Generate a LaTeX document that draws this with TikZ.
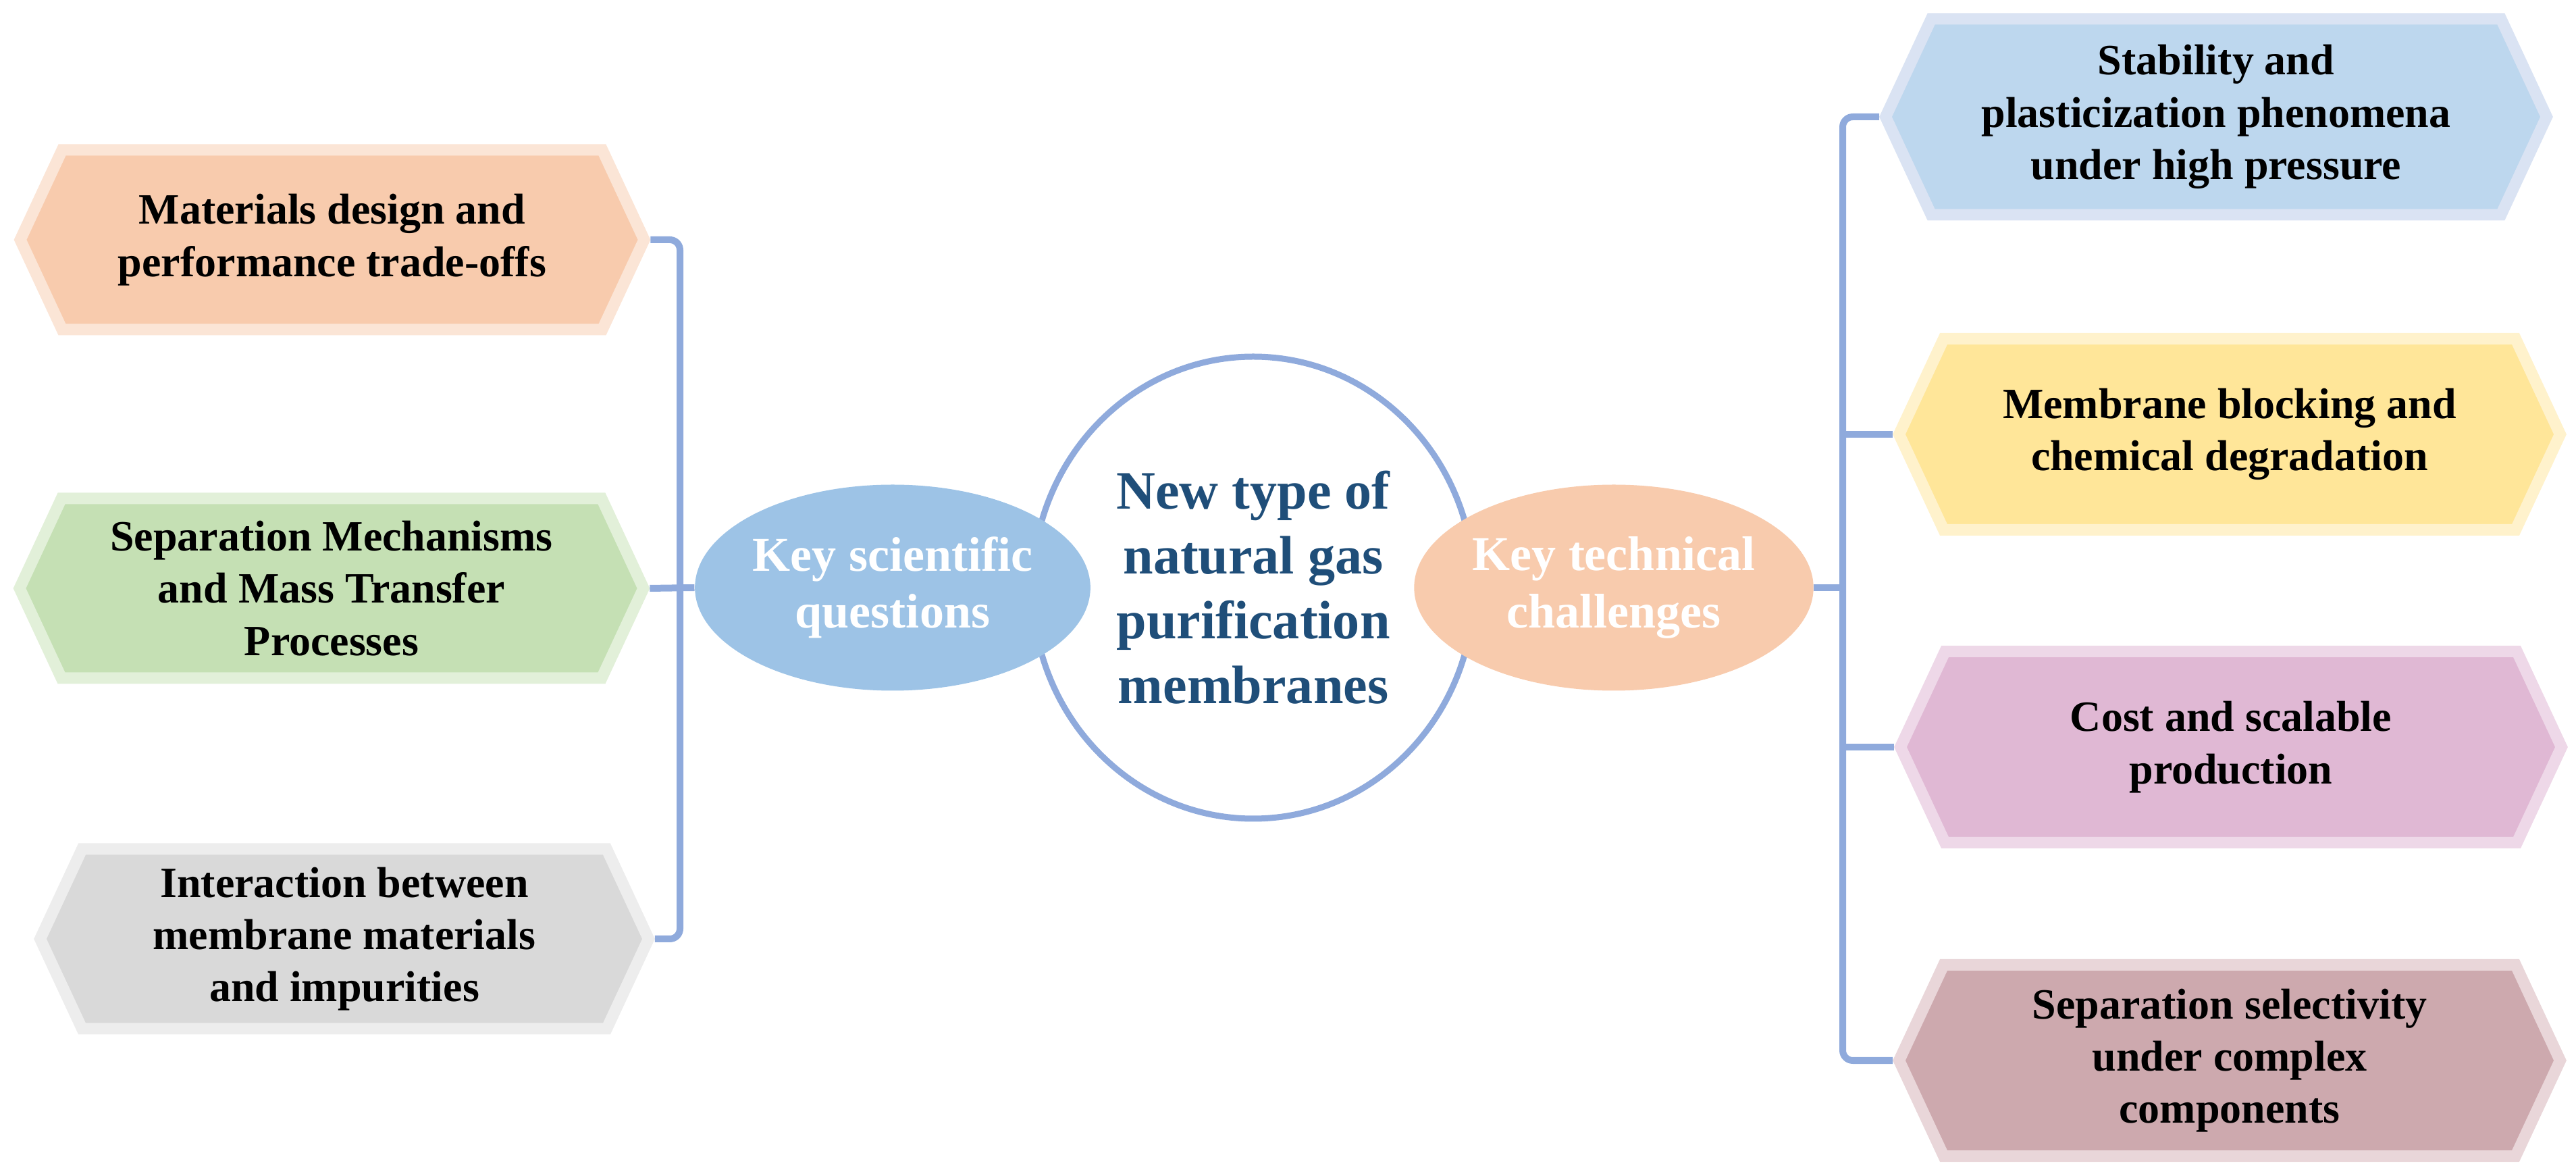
\documentclass[tikz,border=0pt]{standalone}
\usepackage{fontspec}
\setmainfont{Liberation Serif}
\usetikzlibrary{shapes.geometric,shapes.symbols}

\definecolor{linkblue}{RGB}{143,170,220}
\definecolor{navy}{RGB}{31,78,121}
\definecolor{qblue}{RGB}{157,195,230}
\definecolor{corange}{RGB}{248,203,173}
\definecolor{orfill}{RGB}{248,203,173} \definecolor{oredge}{RGB}{251,229,214}
\definecolor{grfill}{RGB}{197,224,180} \definecolor{gredge}{RGB}{226,240,217}
\definecolor{gyfill}{RGB}{217,217,217} \definecolor{gyedge}{RGB}{237,237,237}
\definecolor{blfill}{RGB}{189,215,238} \definecolor{bledge}{RGB}{218,227,243}
\definecolor{yefill}{RGB}{255,230,153} \definecolor{yeedge}{RGB}{255,242,204}
\definecolor{pkfill}{RGB}{224,184,212} \definecolor{pkedge}{RGB}{238,216,232}
\definecolor{mvfill}{RGB}{205,169,174} \definecolor{mvedge}{RGB}{233,214,217}

\begin{document}
\begin{tikzpicture}[
        hexbox/.style={signal, signal to=east and west, signal pointer angle=130,
            inner sep=0pt, line width=0.17cm, align=center,
            font=\fontsize{18.2}{22}\selectfont\bfseries},
        keynode/.style={ellipse, inner sep=0pt, minimum width=5.5cm, minimum height=3.05cm,
            text=white, align=center, font=\fontsize{20.5}{24}\selectfont\bfseries},
        link/.style={draw=linkblue, line width=0.1cm, rounded corners=0.15cm}
    ]
        \useasboundingbox (0,0) rectangle (38.15,17.4);

        % centre
        \node[ellipse, draw=linkblue, line width=0.09cm, fill=white, inner sep=0pt,
            minimum width=6.54cm, minimum height=6.84cm, align=center, text=navy,
            font=\fontsize{22.8}{27.3}\selectfont\bfseries] (core) at (18.56,8.70)
            {New type of\\natural gas\\purification\\membranes};
        \node[keynode, fill=qblue] (keyq) at (13.22,8.70) {Key scientific\\questions};
        \node[keynode, fill=corange, minimum width=5.54cm] (keyc) at (23.90,8.70) {Key technical\\challenges};

        % scientific questions
        \node[hexbox, fill=orfill, draw=oredge, minimum width=9.24cm, minimum height=2.66cm] (q1) at (4.92,13.85)
            {Materials design and\\performance trade-offs};
        \node[hexbox, fill=grfill, draw=gredge, minimum width=9.24cm, minimum height=2.66cm] (q2) at (4.91,8.69)
            {Separation Mechanisms\\and Mass Transfer\\Processes};
        \node[hexbox, fill=gyfill, draw=gyedge, minimum width=9.01cm, minimum height=2.66cm] (q3) at (5.10,3.50)
            {Interaction between\\membrane materials\\and impurities};

        % technical challenges
        \node[hexbox, fill=blfill, draw=bledge, minimum width=9.79cm, minimum height=2.9cm] (ch1) at (32.82,15.67)
            {Stability and\\plasticization phenomena\\under high pressure};
        \node[hexbox, fill=yefill, draw=yeedge, minimum width=9.79cm, minimum height=2.83cm] (ch2) at (33.02,10.97)
            {Membrane blocking and\\chemical degradation};
        \node[hexbox, fill=pkfill, draw=pkedge, minimum width=9.79cm, minimum height=2.83cm] (ch3) at (33.04,6.34)
            {Cost and scalable\\production};
        \node[hexbox, fill=mvfill, draw=mvedge, minimum width=9.79cm, minimum height=2.83cm] (ch4) at (33.02,1.70)
            {Separation selectivity\\under complex\\components};

        % brackets
        \coordinate (lb) at (10.07,8.70);
        \coordinate (rb) at (27.29,8.70);
        \draw[link] (q1.east) -- (q1.east -| lb) -- (q3.east -| lb) -- (q3.east);
        \draw[link] (q2.east) -- (keyq.west);
        \draw[link] (ch1.west) -- (ch1.west -| rb) -- (ch4.west -| rb) -- (ch4.west);
        \draw[link] (ch2.west) -- (ch2.west -| rb);
        \draw[link] (ch3.west) -- (ch3.west -| rb);
        \draw[link] (keyc.east) -- (rb);
\end{tikzpicture}
\end{document}
